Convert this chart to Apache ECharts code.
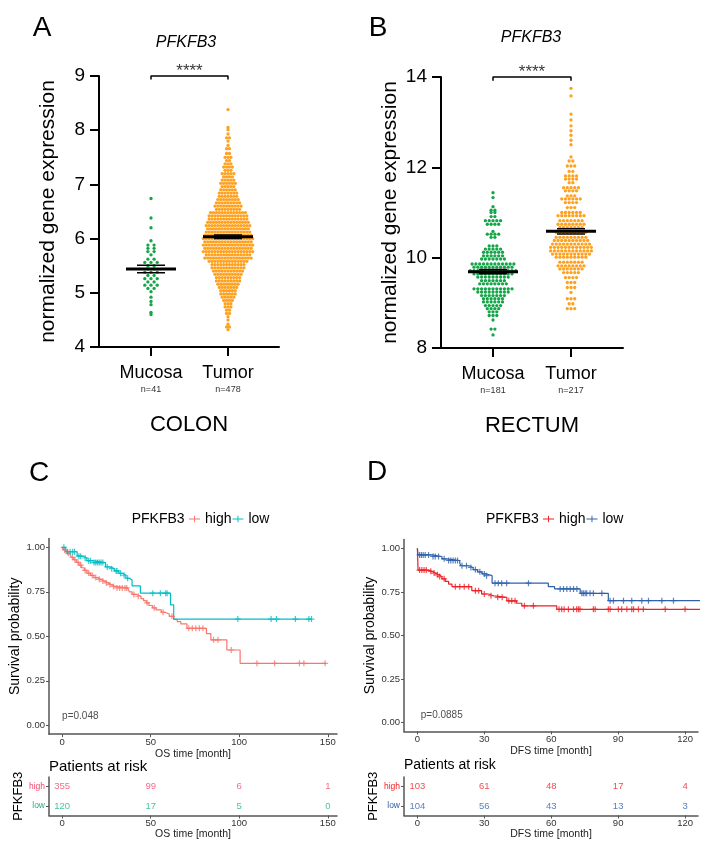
<!DOCTYPE html>
<html><head><meta charset="utf-8">
<script src="https://cdn.jsdelivr.net/npm/echarts@6/dist/echarts.min.js"></script>
<style>html,body{margin:0;padding:0;background:#fff}#c{width:720px;height:851px}</style>
</head><body><div id="c"></div>
<script>
// ---------------- DATA ----------------
const categories = ['Mucosa', 'Tumor'];
const colonNLabels = ['n=41', 'n=478'];
const rectumNLabels = ['n=181', 'n=217'];
// [expression value, number of dots in that swarm row]
const colonMucosa = [[6.74,1],[6.38,1],[6.20,1],[5.96,1],[5.88,2],[5.82,2],[5.76,2],[5.70,1],[5.62,2],[5.56,3],[5.50,2],[5.44,2],[5.38,3],[5.32,2],[5.26,3],[5.20,2],[5.14,3],[5.08,2],[5.02,1],[4.92,1],[4.84,1],[4.78,1],[4.64,1],[4.60,1]];
const colonTumor = [[8.38,1],[8.05,1],[8.01,1],[7.93,1],[7.86,2],[7.80,1],[7.72,1],[7.66,2],[7.57,2],[7.50,3],[7.44,2],[7.38,3],[7.32,4],[7.26,3],[7.20,5],[7.14,4],[7.08,5],[7.02,6],[6.96,5],[6.90,6],[6.84,7],[6.78,7],[6.72,8],[6.66,9],[6.60,10],[6.54,9],[6.48,13],[6.42,14],[6.36,14],[6.30,15],[6.24,16],[6.18,15],[6.12,16],[6.06,17],[6.00,18],[5.94,17],[5.88,18],[5.82,17],[5.76,18],[5.70,16],[5.64,17],[5.58,14],[5.52,12],[5.46,12],[5.40,11],[5.34,10],[5.28,9],[5.22,9],[5.16,8],[5.10,7],[5.04,6],[4.98,6],[4.92,5],[4.86,4],[4.80,3],[4.74,3],[4.68,2],[4.62,2],[4.56,1],[4.50,1],[4.42,1],[4.37,2],[4.32,1]];
const rectumMucosa = [[11.44,1],[11.33,1],[11.13,1],[11.05,2],[11.00,2],[10.91,2],[10.82,5],[10.74,4],[10.58,1],[10.52,4],[10.45,2],[10.26,3],[10.19,5],[10.12,6],[10.04,6],[9.97,7],[9.86,12],[9.79,11],[9.71,13],[9.64,11],[9.57,9],[9.49,7],[9.42,8],[9.31,11],[9.24,9],[9.16,7],[9.09,6],[9.02,6],[8.94,5],[8.87,4],[8.80,3],[8.72,3],[8.62,1],[8.42,2],[8.29,1]];
const rectumTumor = [[13.75,1],[13.58,1],[13.18,1],[13.05,1],[12.92,1],[12.81,1],[12.71,1],[12.60,1],[12.50,1],[12.23,1],[12.14,2],[12.03,3],[11.91,2],[11.81,4],[11.74,4],[11.66,2],[11.55,5],[11.48,4],[11.37,3],[11.30,6],[11.22,4],[11.11,3],[11.00,6],[10.93,8],[10.82,7],[10.74,8],[10.67,7],[10.56,9],[10.45,9],[10.38,10],[10.30,11],[10.23,12],[10.15,12],[10.08,11],[10.01,9],[9.90,7],[9.82,8],[9.75,7],[9.67,5],[9.56,4],[9.45,3],[9.34,3],[9.23,1],[9.09,3],[8.98,2],[8.87,3]];
const colonYAxis = {min: 4, max: 9, interval: 1};
const rectumYAxis = {min: 8, max: 14, interval: 2};
const sigLabel = '****';

// Kaplan-Meier steps [time (months), survival]
const kmHighC = [[0,1],[0.8,0.985],[2,0.975],[3,0.966],[4.2,0.955],[5.2,0.944],[6.5,0.93],[8,0.915],[9.5,0.9],[11,0.885],[12.5,0.87],[14,0.855],[16,0.842],[18,0.83],[20,0.82],[22,0.81],[24,0.8],[26,0.79],[28,0.78],[30,0.772],[37,0.762],[38,0.75],[39.5,0.735],[42,0.725],[44.5,0.712],[46,0.7],[47.5,0.688],[49,0.673],[51,0.66],[53,0.648],[56,0.635],[58,0.625],[60.5,0.612],[63,0.595],[65,0.582],[67,0.57],[70.5,0.545],[81.5,0.515],[84,0.48],[93,0.423],[100.5,0.348],[149,0.348]];
const kmLowC = [[0,1],[2,0.975],[8.5,0.95],[12,0.94],[14,0.925],[17,0.914],[24.5,0.89],[27,0.88],[29.5,0.867],[32,0.854],[34,0.843],[36,0.826],[38,0.816],[39.5,0.783],[44.2,0.742],[61.2,0.676],[63,0.597],[141,0.597]];
const censorHighC = [1.5,3.5,5.8,7.2,9,10.5,13,15,17,19,21,23,25,27,29,31,32.5,34,35.5,36.5,40.5,43,48,52,57,62,71.5,73.5,75.5,77.5,79.5,85.5,88,95.5,110,120,134,136.5,148.5];
const censorLowC = [1,3,4.5,6,7,9.5,10.5,13,15,16,18,19,20,21,22,23,25.5,28,30.5,31,33,35,37,51.2,55.5,58.5,59.3,99.2,118,121,131.7,139.3,140.8];
const kmHighD = [[0,1],[0.3,0.875],[5,0.868],[6.5,0.858],[8,0.848],[9.5,0.838],[11,0.825],[12.5,0.81],[14,0.795],[15.5,0.78],[24.4,0.757],[28.8,0.738],[31.8,0.728],[34.1,0.719],[40.1,0.699],[44.5,0.685],[46.8,0.67],[62.5,0.65],[127.5,0.65]];
const kmLowD = [[0,1],[0.3,0.962],[6.5,0.953],[11,0.94],[13,0.93],[19,0.915],[19.5,0.9],[23,0.89],[25,0.878],[27,0.865],[29,0.853],[31,0.843],[33.5,0.80],[58.7,0.78],[61.5,0.767],[73,0.742],[85.6,0.70],[126.8,0.70]];
const censorHighD = [1,2,3,4,6,7.5,9,10,12,17,19,21,23,26,27.5,30,33,36,38,41,42.3,43.8,48,52,63.5,64.7,65.8,67.7,70,71.4,72.2,72.9,78.9,79.7,85.6,86.4,90.1,91.6,93.9,96.1,96.9,99.1,101.3,111.1,120,127.5];
const censorLowD = [1,1.8,2.6,3.5,5,7,8,9.5,12,14,15,16,17,18,20,22,24,26,28,30,31,34.8,36.3,37.8,40,49.8,64,65.5,67,68.5,70,71.5,73.7,74.4,75.2,75.9,77.4,78.9,82.7,86.4,87.9,92.4,96.1,100.6,103.6,109.6,114.8,126.8];
const pValueC = 'p=0.048';
const pValueD = 'p=0.0885';
const groups = ['high', 'low'];
const timeTicksC = [0, 50, 100, 150];
const timeTicksD = [0, 30, 60, 90, 120];
const survTicks = [0, 0.25, 0.5, 0.75, 1];
const riskTimesC = [0, 50, 100, 150];
const riskHighC = [355, 99, 6, 1];
const riskLowC = [120, 17, 5, 0];
const riskTimesD = [0, 30, 60, 90, 120];
const riskHighD = [103, 61, 48, 17, 4];
const riskLowD = [104, 56, 43, 13, 3];

// ---------------- HELPERS ----------------
const FONT = 'Liberation Sans, Arial, Helvetica, sans-serif';
const GREEN = '#14a548', ORANGE = '#ffa11f';
const C_HIGH = '#F8766D', C_LOW = '#00BFC4', C_HIGH_T = '#f2476a', C_LOW_T = '#1db57c';
const D_HIGH = '#ee2027', D_LOW = '#3061ab';

function swarm(rows, center, unitPerPx, spacingPx) {
  const pts = [];
  rows.forEach(([v, n]) => {
    for (let j = 0; j < n; j++) pts.push([center + (j - (n - 1) / 2) * spacingPx * unitPerPx, v]);
  });
  return pts;
}
function stats(rows) {
  let s = 0, n = 0;
  rows.forEach(([v, c]) => { s += v * c; n += c; });
  const m = s / n; let ss = 0;
  rows.forEach(([v, c]) => { ss += c * (v - m) * (v - m); });
  return {mean: m, sem: Math.sqrt(ss / (n - 1)) / Math.sqrt(n)};
}
function survAt(steps, t) {
  let s = steps[0][1];
  for (const [tt, v] of steps) { if (tt <= t) s = v; else break; }
  return s;
}
function hline(xi, yi, x1, x2, y, w, z) {
  return {type: 'line', xAxisIndex: xi, yAxisIndex: yi, data: [[x1, y], [x2, y]], symbol: 'none',
    lineStyle: {color: '#000', width: w, cap: 'butt'}, silent: true, clip: false, z: z};
}

// layout
const gA = {left: 99, top: 76, width: 180, height: 271};
const gB = {left: 441, top: 77, width: 182, height: 271};
const xA = {min: 1 - 52 / 77, max: 2 + 51 / 77};
const xB = {min: 1 - 52 / 78, max: 2 + 52 / 78};
const upA = (xA.max - xA.min) / gA.width;
const upB = (xB.max - xB.min) / gB.width;

const series = [];
function dotPanel(xi, rowsM, rowsT, up, yMax, bracketDrop, spacing) {
  const groupsRows = [rowsM, rowsT];
  groupsRows.forEach((rows, k) => {
    const c = k + 1;
    series.push({type: 'scatter', xAxisIndex: xi, yAxisIndex: xi, data: swarm(rows, c, up, spacing[k]),
      symbolSize: 3.3, itemStyle: {color: k === 0 ? GREEN : ORANGE, opacity: 1}, silent: true, z: 2});
    const st = stats(rows);
    series.push(hline(xi, xi, c - 25 * up, c + 25 * up, st.mean, 3, 4));
    series.push(hline(xi, xi, c - 14 * up, c + 14 * up, st.mean + st.sem, 1.5, 4));
    series.push(hline(xi, xi, c - 14 * up, c + 14 * up, st.mean - st.sem, 1.5, 4));
  });
  series.push({type: 'line', xAxisIndex: xi, yAxisIndex: xi, symbol: 'none', clip: false, silent: true,
    data: [[1, yMax - bracketDrop], [1, yMax], [2, yMax], [2, yMax - bracketDrop]],
    lineStyle: {color: '#000', width: 1.5}});
  series.push({type: 'scatter', xAxisIndex: xi, yAxisIndex: xi, data: [[1.5, yMax]], symbolSize: 0, silent: true,
    label: {show: true, position: 'inside', offset: [0, -5], formatter: sigLabel, fontSize: 17, fontFamily: FONT, color: '#000'}});
}
dotPanel(0, colonMucosa, colonTumor, upA, colonYAxis.max, 3.5 / 54.2, [6.2, 2.9]);
dotPanel(1, rectumMucosa, rectumTumor, upB, rectumYAxis.max, 3.7 / 45.17, [3.8, 3.7]);

const plus = 'path://M2.4,0H3.6V6H2.4ZM0,2.4H6V3.6H0Z';
function kmPanel(ax, tag, steps, censors, color) {
  const names = [tag + ' high', tag + ' low'];
  steps.forEach((st, k) => {
    series.push({type: 'line', name: names[k], xAxisIndex: ax, yAxisIndex: ax, data: st, step: 'end',
      symbol: 'none', showSymbol: false, lineStyle: {color: color[k], width: 1.2}, itemStyle: {color: color[k]}, silent: true, z: 3});
    series.push({type: 'scatter', name: names[k], xAxisIndex: ax, yAxisIndex: ax,
      data: censors[k].map(t => [t, survAt(st, t)]), symbol: plus, symbolSize: 6,
      itemStyle: {color: color[k]}, silent: true, z: 4});
  });
}
kmPanel(2, 'C', [kmHighC, kmLowC], [censorHighC, censorLowC], [C_HIGH, C_LOW]);
kmPanel(4, 'D', [kmHighD, kmLowD], [censorHighD, censorLowD], [D_HIGH, D_LOW]);

function pText(ax, t, s, txt) {
  series.push({type: 'scatter', xAxisIndex: ax, yAxisIndex: ax, data: [[t, s]], symbolSize: 0, silent: true,
    label: {show: true, position: 'right', distance: 0, formatter: txt, fontSize: 10, fontFamily: FONT, color: '#222'}});
}
pText(2, 0, 0.05, pValueC);
pText(4, 1.5, 0.04, pValueD);

function riskPanel(ax, times, rows, colors) {
  rows.forEach((vals, k) => {
    series.push({type: 'scatter', xAxisIndex: ax, yAxisIndex: ax, symbolSize: 0, silent: true,
      data: times.map((t, i) => [t, k, vals[i]]),
      label: {show: true, position: 'inside', formatter: p => String(p.value[2]), fontSize: 9.5, fontFamily: FONT, color: colors[k]}});
  });
}
riskPanel(3, riskTimesC, [riskHighC, riskLowC], [C_HIGH_T, C_LOW_T]);
riskPanel(5, riskTimesD, [riskHighD, riskLowD], [D_HIGH, D_LOW]);

// axes
const prismLine = {show: true, lineStyle: {color: '#000', width: 2}};
const prismTick = {show: true, length: 9, lineStyle: {color: '#000', width: 2}};
function catX(gi, range, nLabels, name) {
  return {type: 'value', gridIndex: gi, min: range.min, max: range.max,
    axisLine: prismLine, axisTick: Object.assign({customValues: [1, 2]}, prismTick), splitLine: {show: false},
    axisLabel: {customValues: [1, 2], margin: 16, formatter: v => '{a|' + categories[Math.round(v) - 1] + '}\n{b|' + nLabels[Math.round(v) - 1] + '}',
      rich: {a: {fontSize: 18, lineHeight: 20, fontFamily: FONT, color: '#000'}, b: {fontSize: 9, lineHeight: 13, fontFamily: FONT, color: '#333'}}},
    name: name, nameLocation: 'middle', nameGap: 67, nameTextStyle: {fontSize: 22, fontFamily: FONT, color: '#000'}};
}
function valY(gi, r) {
  return {type: 'value', gridIndex: gi, min: r.min, max: r.max, interval: r.interval,
    axisLine: prismLine, axisTick: prismTick, splitLine: {show: false},
    axisLabel: {fontSize: 19, fontFamily: FONT, color: '#000', margin: 14},
    name: 'normalized gene expression', nameLocation: 'middle', nameRotate: 90, nameGap: 40,
    nameTextStyle: {fontSize: 21, fontFamily: FONT, color: '#000'}};
}
const kmLine = {show: true, onZero: false, lineStyle: {color: '#555', width: 1.5}};
const kmTick = {show: true, length: 3, lineStyle: {color: '#555', width: 1}};
function timeX(gi, min, max, ticks, name, gap, lm) {
  return {type: 'value', gridIndex: gi, min: min, max: max, axisLine: kmLine,
    axisTick: Object.assign({customValues: ticks}, kmTick), splitLine: {show: false},
    axisLabel: {customValues: ticks, fontSize: 9.5, fontFamily: FONT, color: '#333', margin: lm},
    name: name, nameLocation: 'middle', nameGap: gap, nameTextStyle: {fontSize: 10.5, fontFamily: FONT, color: '#222'}};
}
function survY(gi, gap) {
  return {type: 'value', gridIndex: gi, min: -0.05, max: 1.05, axisLine: kmLine,
    axisTick: Object.assign({customValues: survTicks}, kmTick), splitLine: {show: false},
    axisLabel: {customValues: survTicks, formatter: v => v.toFixed(2), fontSize: 9.5, fontFamily: FONT, color: '#333', margin: 4},
    name: 'Survival probability', nameLocation: 'middle', nameRotate: 90, nameGap: gap,
    nameTextStyle: {fontSize: 14, fontFamily: FONT, color: '#000'}};
}
function riskY(gi, colors, gap) {
  return {type: 'category', gridIndex: gi, data: groups, inverse: true, boundaryGap: true,
    axisLine: kmLine, axisTick: {show: true, alignWithLabel: true, length: 3, lineStyle: {color: '#555'}},
    axisLabel: {fontSize: 8.5, fontFamily: FONT, margin: 4, color: (v, i) => colors[groups.indexOf(v)]},
    name: 'PFKFB3', nameLocation: 'middle', nameRotate: 90, nameGap: gap,
    nameTextStyle: {fontSize: 13, fontFamily: FONT, color: '#000'}};
}

const legendIcon = 'path://M0,3.4H14V4.6H0ZM6.4,0H7.6V8H6.4Z';
function legend(tag, left) {
  return {data: [tag + ' high', tag + ' low'], left: left, top: 512, orient: 'horizontal', icon: legendIcon,
    itemWidth: 11, itemHeight: 7, itemGap: 1, selectedMode: false, padding: 0,
    formatter: n => n.slice(2), textStyle: {fontSize: 14, fontFamily: FONT, color: '#000'}};
}
function txt(x, y, s, size, extra) {
  return {type: 'text', x: x, y: y, silent: true,
    style: Object.assign({text: s, fontSize: size, fontFamily: FONT, fill: '#000', align: 'center', verticalAlign: 'middle'}, extra || {})};
}

const option = {
  animation: false,
  backgroundColor: '#fff',
  grid: [gA, gB,
    {left: 49, top: 538.4, width: 288, height: 195.8},
    {left: 49, top: 777, width: 288, height: 38.5},
    {left: 404, top: 539.6, width: 294, height: 191.8},
    {left: 404, top: 777, width: 294, height: 38.5}],
  xAxis: [catX(0, xA, colonNLabels, 'COLON'), catX(1, xB, rectumNLabels, 'RECTUM'),
    timeX(2, -7.4, 155.2, timeTicksC, 'OS time [month]', 14, 3),
    timeX(3, -7.4, 155.2, timeTicksC, 'OS time [month]', 11, 2.5),
    timeX(4, -6, 125.8, timeTicksD, 'DFS time [month]', 14, 3),
    timeX(5, -6, 125.8, timeTicksD, 'DFS time [month]', 11, 2.5)],
  yAxis: [valY(0, colonYAxis), valY(1, rectumYAxis), survY(2, 24.5), riskY(3, [C_HIGH_T, C_LOW_T], 23.5),
    survY(4, 26), riskY(5, [D_HIGH, D_LOW], 23.5)],
  legend: [legend('C', 189), legend('D', 543)],
  series: series,
  graphic: [
    txt(42, 28, 'A', 28), txt(378, 28, 'B', 28), txt(39, 473, 'C', 28), txt(377, 472, 'D', 28),
    txt(186, 42.5, 'PFKFB3', 16, {fontStyle: 'italic'}), txt(531, 38, 'PFKFB3', 16, {fontStyle: 'italic'}),
    txt(131.7, 519.5, 'PFKFB3', 14, {align: 'left'}), txt(486, 519.5, 'PFKFB3', 14, {align: 'left'}),
    txt(49, 767, 'Patients at risk', 15, {align: 'left'}), txt(404, 765.5, 'Patients at risk', 14, {align: 'left'})
  ]
};
const chart = echarts.init(document.getElementById('c'), null, {renderer: 'canvas', width: 720, height: 851});
chart.setOption(option);
</script></body></html>
